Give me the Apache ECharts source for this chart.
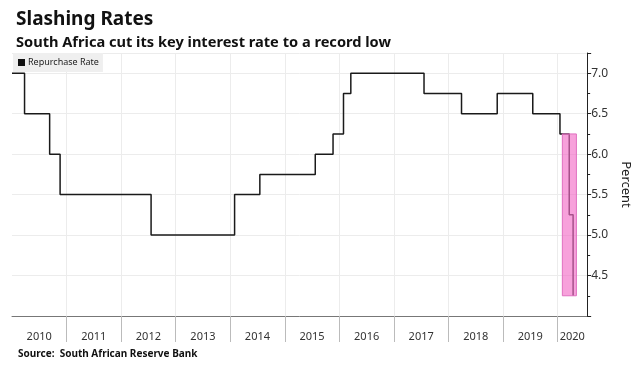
<!DOCTYPE html>
<html>
<head>
<meta charset="utf-8">
<script src="https://cdn.jsdelivr.net/npm/echarts@6/dist/echarts.min.js"></script>
<style>
html,body{margin:0;padding:0;background:#fff;}
#c{width:640px;height:370px;}
</style>
</head>
<body>
<div id="c"></div>
<script>
// Data
const dates = ['2010-01-01','2010-03-26','2010-09-10','2010-11-19','2012-07-20','2014-01-30','2014-07-18','2015-07-24','2015-11-20','2016-01-29','2016-03-18','2017-07-21','2018-03-29','2018-11-23','2019-07-19','2020-01-17','2020-03-19','2020-04-14'];
const rates = [7.0,6.5,6.0,5.5,5.0,5.5,5.75,6.0,6.25,6.75,7.0,6.75,6.5,6.75,6.5,6.25,5.25,4.25];
const yearStarts = ['2011-01-01','2012-01-01','2013-01-01','2014-01-01','2015-01-01','2016-01-01','2017-01-01','2018-01-01','2019-01-01','2020-01-01'];
const yearLabelPos = ['2010-07-02','2011-07-02','2012-07-02','2013-07-02','2014-07-02','2015-07-02','2016-07-02','2017-07-02','2018-07-02','2019-07-02','2020-04-08'];
const highlight = {from:'2020-02-02', to:'2020-05-06', low:4.25, high:6.25};
const seriesName = 'Repurchase Rate';

const FONT = 'Noto Sans';
const ts = d => new Date(d + 'T00:00:00Z').getTime();

const chart = echarts.init(document.getElementById('c'), null, {renderer:'canvas'});
chart.setOption({
  animation:false,
  backgroundColor:'#fff',
  title:[
    {text:'Slashing Rates', left:11, top:5, textStyle:{fontFamily:FONT, fontWeight:'bold', fontSize:19, color:'#111'}},
    {text:'South Africa cut its key interest rate to a record low', left:11, top:30, textStyle:{fontFamily:FONT, fontWeight:'bold', fontSize:14.6, color:'#111'}},
    {text:'Source:  South African Reserve Bank', left:13, top:344, textStyle:{fontFamily:FONT, fontWeight:'bold', fontSize:10, color:'#111'}}
  ],
  legend:{
    left:13, top:53, data:[seriesName], icon:'rect', itemWidth:7, itemHeight:7, itemGap:3,
    backgroundColor:'#efefef', padding:[5,4,5,5], borderRadius:0,
    textStyle:{fontFamily:FONT, fontSize:9, color:'#222', padding:[0,0,0,-2]}
  },
  grid:{left:12, right:48, top:53, bottom:54},
  xAxis:{
    type:'value',
    min: ts('2010-01-01'), max: ts('2020-07-17'),
    axisLine:{show:true, lineStyle:{color:'#777', width:1}},
    axisTick:{show:true, length:26, customValues: yearStarts.map(ts), lineStyle:{color:'#bbb'}},
    axisLabel:{customValues: yearLabelPos.map(ts), formatter: v => String(new Date(v).getUTCFullYear()), fontFamily:FONT, fontSize:11, color:'#333', margin:15},
    splitLine:{show:true, lineStyle:{color:'#ececec', width:1}}
  },
  yAxis:{
    type:'value', position:'right', min:4, max:7.25, interval:0.5,
    name:'Percent', nameLocation:'middle', nameRotate:-90, nameGap:26,
    nameTextStyle:{fontFamily:FONT, fontSize:13, color:'#222'},
    axisLine:{show:true, lineStyle:{color:'#222', width:1}},
    axisTick:{show:true, length:4, lineStyle:{color:'#222'}},
    minorTick:{show:true, splitNumber:2, length:3, lineStyle:{color:'#222'}},
    axisLabel:{fontFamily:FONT, fontSize:12, color:'#333', margin:4,
      formatter: v => (v >= 4.5 && Math.abs(v*2 - Math.round(v*2)) < 1e-6) ? v.toFixed(1) : ''},
    splitLine:{show:true, lineStyle:{color:'#ececec', width:1}}
  },
  series:[{
    name:seriesName, type:'line', step:'end', symbol:'none',
    data: dates.map((d,i)=>[ts(d), rates[i]]),
    lineStyle:{color:'#1a1a1a', width:1.5},
    itemStyle:{color:'#111'},
    markArea:{
      silent:true, z:5,
      itemStyle:{color:'rgba(243,110,200,0.65)', borderColor:'#e070c0', borderWidth:1},
      data:[[{xAxis: ts(highlight.from), yAxis: highlight.high},{xAxis: ts(highlight.to), yAxis: highlight.low}]]
    }
  }]
});
</script>
</body>
</html>
